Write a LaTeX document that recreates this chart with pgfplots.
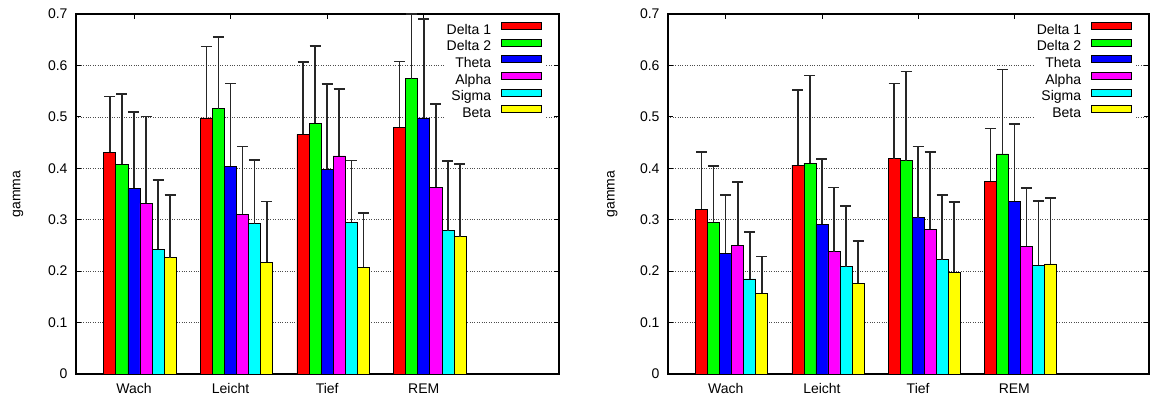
\documentclass[border=0pt]{standalone}
\usepackage{fontspec}
\setmainfont{Liberation Sans}
\usepackage{pgfplots}
\usepackage{pgfplotstable}
\pgfplotsset{compat=1.18}
\newcommand{\myfont}{\fontsize{14}{16.5}\selectfont}
\definecolor{cR}{RGB}{255,0,0}
\definecolor{cG}{RGB}{0,255,0}
\definecolor{cB}{RGB}{0,0,255}
\definecolor{cM}{RGB}{255,0,255}
\definecolor{cC}{RGB}{0,255,255}
\definecolor{cY}{RGB}{255,255,0}

% x: category index; cols: value and top of error bar
\pgfplotstableread{
x  da   dat   db   dbt   th   tht   al   alt   si   sit   be   bet
0  0.431 0.540 0.408 0.544 0.361 0.509 0.332 0.501 0.243 0.377 0.226 0.348
1  0.498 0.637 0.516 0.655 0.404 0.565 0.311 0.442 0.292 0.416 0.217 0.335
2  0.466 0.607 0.488 0.638 0.398 0.564 0.424 0.554 0.295 0.415 0.208 0.313
3  0.480 0.608 0.574 0.700 0.498 0.690 0.363 0.525 0.279 0.414 0.267 0.408
}\tabL

\pgfplotstableread{
x  da   dat   db   dbt   th   tht   al   alt   si   sit   be   bet
0  0.320 0.432 0.295 0.404 0.235 0.348 0.250 0.373 0.185 0.276 0.157 0.228
1  0.406 0.552 0.410 0.580 0.291 0.418 0.238 0.363 0.209 0.327 0.176 0.259
2  0.419 0.565 0.415 0.588 0.304 0.442 0.281 0.432 0.222 0.348 0.198 0.334
3  0.375 0.477 0.428 0.592 0.336 0.486 0.248 0.362 0.211 0.336 0.214 0.342
}\tabR

\pgfplotsset{
  mybar/.style={ybar, bar width=0.125, bar shift=0pt, draw=black, line width=0.7pt, fill=#1,
    legend image code/.code={\draw[fill=#1,draw=black,line width=0.7pt] (0pt,1.2pt) rectangle (40pt,8.2pt);}},
  myerr/.style={error bars/.cd, y dir=plus, y explicit,
    error bar style={line width=1.5pt, black!85, solid},
    error mark options={line width=1.5pt, mark size=5.5pt, black!85, rotate=90}},
  myaxis/.style={
    scale only axis, height=360pt,
    xmin=-0.6, xmax=4.4, ymin=0, ymax=0.7,
    xtick={0,1,2,3}, xticklabels={Wach,Leicht,Tief,REM},
    ytick={0,0.1,...,0.7},
    yticklabel={\pgfmathprintnumber[fixed,precision=1]{\tick}},
    /pgf/number format/assume math mode=true,
    tick pos=both, tick align=inside, major tick length=5pt,
    tick style={line width=0.8pt, black},
    axis line style={line width=1.1pt},
    ymajorgrids, grid style={dotted, line width=0.7pt, black!70},
    tick label style={font=\myfont},
    yticklabel style={xshift=-5pt},
    xticklabel style={yshift=-6pt},
    ylabel={gamma},
    legend cell align=right, legend plot pos=right,
    legend style={font=\myfont, draw=none, fill=white, inner sep=3pt,
      at={(1,1)}, anchor=north east, xshift=-14pt, yshift=-5pt,
      row sep=1.6pt, column sep=10pt,
      nodes={inner sep=0pt, text height=10pt, text depth=3pt}},
  }
}

\begin{document}
\begin{tikzpicture}
\useasboundingbox (-76pt,-24pt) rectangle (1074pt,374pt);
\begin{axis}[myaxis, width=483pt, at={(0pt,0pt)}, anchor=south west,
  every axis y label/.style={at={(axis description cs:-0.120,0.5)}, rotate=90, anchor=center, font=\myfont}]
\addplot[mybar=cR, myerr] table[x expr=\thisrow{x}-0.25, y=da, y error expr=\thisrow{dat}-\thisrow{da}] {\tabL};
\addplot[mybar=cG, myerr] table[x expr=\thisrow{x}-0.125, y=db, y error expr=\thisrow{dbt}-\thisrow{db}] {\tabL};
\addplot[mybar=cB, myerr] table[x expr=\thisrow{x}, y=th, y error expr=\thisrow{tht}-\thisrow{th}] {\tabL};
\addplot[mybar=cM, myerr] table[x expr=\thisrow{x}+0.125, y=al, y error expr=\thisrow{alt}-\thisrow{al}] {\tabL};
\addplot[mybar=cC, myerr] table[x expr=\thisrow{x}+0.25, y=si, y error expr=\thisrow{sit}-\thisrow{si}] {\tabL};
\addplot[mybar=cY, myerr] table[x expr=\thisrow{x}+0.375, y=be, y error expr=\thisrow{bet}-\thisrow{be}] {\tabL};
\legend{Delta 1, Delta 2, Theta, Alpha, Sigma, Beta}
\end{axis}
\begin{axis}[myaxis, width=481pt, at={(592pt,0pt)}, anchor=south west,
  every axis y label/.style={at={(axis description cs:-0.116,0.5)}, rotate=90, anchor=center, font=\myfont}]
\addplot[mybar=cR, myerr] table[x expr=\thisrow{x}-0.25, y=da, y error expr=\thisrow{dat}-\thisrow{da}] {\tabR};
\addplot[mybar=cG, myerr] table[x expr=\thisrow{x}-0.125, y=db, y error expr=\thisrow{dbt}-\thisrow{db}] {\tabR};
\addplot[mybar=cB, myerr] table[x expr=\thisrow{x}, y=th, y error expr=\thisrow{tht}-\thisrow{th}] {\tabR};
\addplot[mybar=cM, myerr] table[x expr=\thisrow{x}+0.125, y=al, y error expr=\thisrow{alt}-\thisrow{al}] {\tabR};
\addplot[mybar=cC, myerr] table[x expr=\thisrow{x}+0.25, y=si, y error expr=\thisrow{sit}-\thisrow{si}] {\tabR};
\addplot[mybar=cY, myerr] table[x expr=\thisrow{x}+0.375, y=be, y error expr=\thisrow{bet}-\thisrow{be}] {\tabR};
\legend{Delta 1, Delta 2, Theta, Alpha, Sigma, Beta}
\end{axis}
\end{tikzpicture}
\end{document}
